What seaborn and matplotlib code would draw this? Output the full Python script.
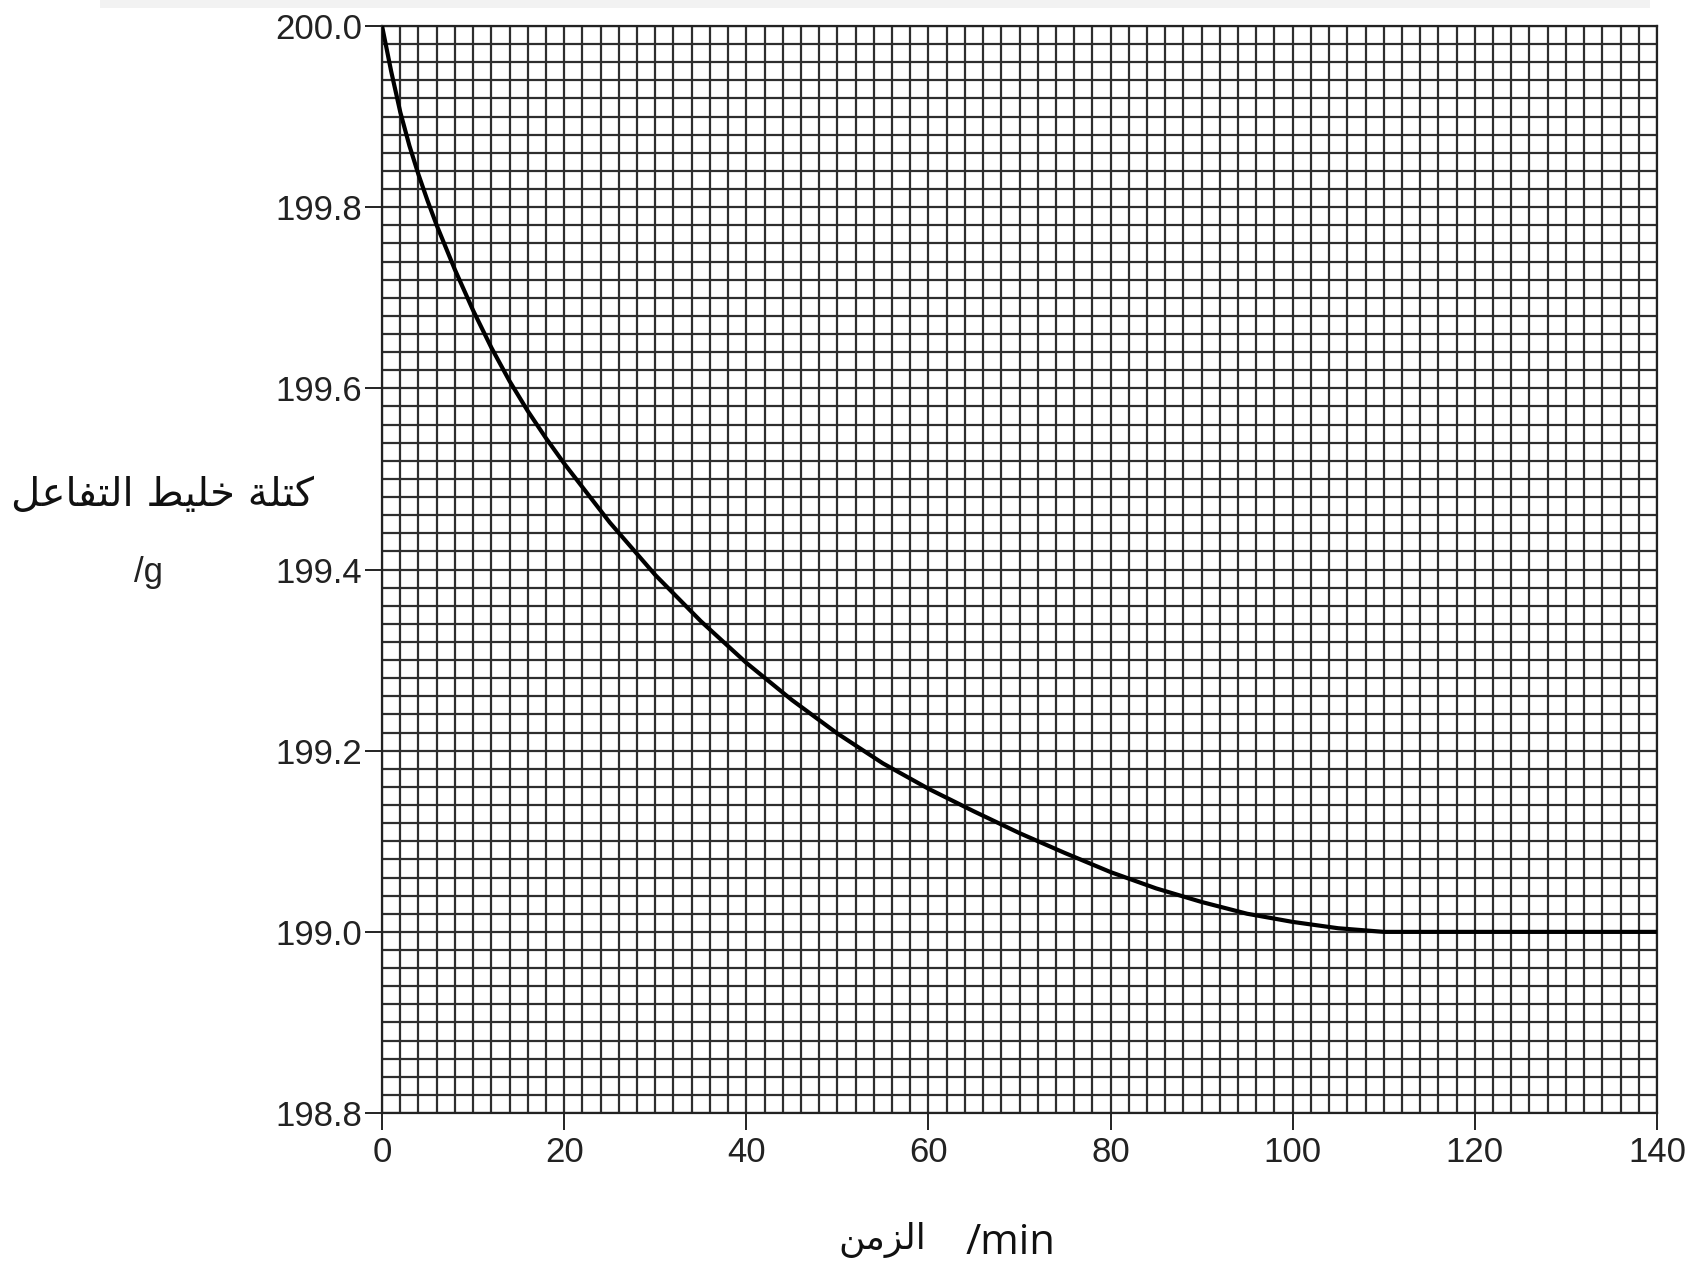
import numpy as np
import pandas as pd
import matplotlib
matplotlib.use("Agg")
import matplotlib.pyplot as plt
import seaborn as sns

# ---------------- data ----------------
time_min = [0, 1, 2, 3, 4, 5, 6, 8, 10, 12, 14, 16, 18, 20, 25, 30, 35, 40,
            45, 50, 55, 60, 65, 70, 75, 80, 85, 90, 95, 100, 105, 110, 120,
            130, 140]
mass_g = [200.000, 199.950, 199.905, 199.868, 199.836, 199.807, 199.780,
          199.731, 199.686, 199.645, 199.608, 199.575, 199.545, 199.517,
          199.452, 199.394, 199.343, 199.297, 199.256, 199.219, 199.186,
          199.158, 199.133, 199.109, 199.087, 199.066, 199.048, 199.033,
          199.020, 199.011, 199.004, 199.000, 199.000, 199.000, 199.000]
x_ticks = [0, 20, 40, 60, 80, 100, 120, 140]
y_ticks = [198.8, 199.0, 199.2, 199.4, 199.6, 199.8, 200.0]
y_tick_labels = ["198.8", "199.0", "199.2", "199.4", "199.6", "199.8", "200.0"]
y_label_ar = "كتلة خليط التفاعل"
y_unit = "/g"
x_label_ar = "الزمن"
x_unit = "/min"

# ---------------- minimal Arabic shaping (matplotlib has no shaper) -------
FORMS = {  # iso, fin, init, med
    "ا": (0xFE8D, 0xFE8E, None, None),
    "ز": (0xFEAF, 0xFEB0, None, None),
    "ة": (0xFE93, 0xFE94, None, None),
    "ك": (0xFED9, 0xFEDA, 0xFEDB, 0xFEDC),
    "ت": (0xFE95, 0xFE96, 0xFE97, 0xFE98),
    "ل": (0xFEDD, 0xFEDE, 0xFEDF, 0xFEE0),
    "خ": (0xFEA5, 0xFEA6, 0xFEA7, 0xFEA8),
    "ي": (0xFEF1, 0xFEF2, 0xFEF3, 0xFEF4),
    "ط": (0xFEC1, 0xFEC2, 0xFEC3, 0xFEC4),
    "ف": (0xFED1, 0xFED2, 0xFED3, 0xFED4),
    "ع": (0xFEC9, 0xFECA, 0xFECB, 0xFECC),
    "م": (0xFEE1, 0xFEE2, 0xFEE3, 0xFEE4),
    "ن": (0xFEE5, 0xFEE6, 0xFEE7, 0xFEE8),
}


def shape(text):
    out = []
    n = len(text)
    for i, c in enumerate(text):
        if c not in FORMS:
            out.append(c)
            continue
        f = FORMS[c]
        prev_c = text[i - 1] if i > 0 else None
        next_c = text[i + 1] if i < n - 1 else None
        jp = prev_c in FORMS and FORMS[prev_c][2] is not None
        jn = next_c in FORMS and f[2] is not None
        if jp and jn:
            cp = f[3]
        elif jp:
            cp = f[1]
        elif jn:
            cp = f[2]
        else:
            cp = f[0]
        out.append(chr(cp))
    return "".join(reversed(out))


# ---------------- figure ----------------
sns.set_theme(style="white")
plt.rcParams["font.family"] = ["Liberation Sans", "DejaVu Sans"]

fig = plt.figure(figsize=(16.92, 12.68), dpi=100)
ax = fig.add_axes([0.2258, 0.1222, 0.9793 - 0.2258, 0.9795 - 0.1222])

df = pd.DataFrame({"t": time_min, "m": mass_g})
sns.lineplot(data=df, x="t", y="m", ax=ax, color="black", linewidth=3.0,
             sort=False, zorder=5)
ax.lines[-1].set_solid_joinstyle("round")

ax.set_xlim(0, 140)
ax.set_ylim(198.8, 200.0)
ax.set_xticks(x_ticks)
ax.set_xticklabels([str(v) for v in x_ticks])
ax.set_yticks(y_ticks)
ax.set_yticklabels(y_tick_labels)
ax.set_xticks(np.arange(0, 141, 2), minor=True)
ax.set_yticks(np.arange(198.8, 200.001, 0.02), minor=True)

grid_kw = dict(color="#2e2e2e", linewidth=1.6)
ax.grid(True, which="both", **grid_kw)
ax.set_axisbelow(True)
for s in ax.spines.values():
    s.set_visible(True)
    s.set_color("#222222")
    s.set_linewidth(1.6)

ax.tick_params(axis="both", which="major", direction="out", length=12.5,
               width=1.4, color="#222222", labelsize=25,
               labelcolor="#222222", bottom=True, left=True)
ax.tick_params(axis="x", which="major", pad=4)
ax.tick_params(axis="y", which="major", pad=2)
ax.tick_params(which="minor", length=0)
ax.set_xlabel("")
ax.set_ylabel("")

# axis labels
fig.text(162 / 1692, 1 - 495 / 1268, shape(y_label_ar), ha="center",
         va="center", fontsize=29, family=["DejaVu Sans"], color="#111111")
fig.text(148 / 1692, 1 - 572 / 1268, y_unit, ha="center", va="center",
         fontsize=25, color="#222222")
fig.text(882 / 1692, 1 - 1240 / 1268, shape(x_label_ar), ha="center",
         va="center", fontsize=26, family=["DejaVu Sans"], color="#111111")
fig.text(1011 / 1692, 1 - 1243 / 1268, x_unit, ha="center", va="center",
         fontsize=30, family=["Open Sans", "DejaVu Sans"], color="#111111")

# faint strip at the very top (cropped text band in the source)
fig.patches.append(plt.Rectangle((100 / 1692, 1 - 8 / 1268), 1550 / 1692,
                                 8 / 1268, transform=fig.transFigure,
                                 facecolor="#f2f2f2", edgecolor="none"))

fig.savefig("out.png", dpi=100)
